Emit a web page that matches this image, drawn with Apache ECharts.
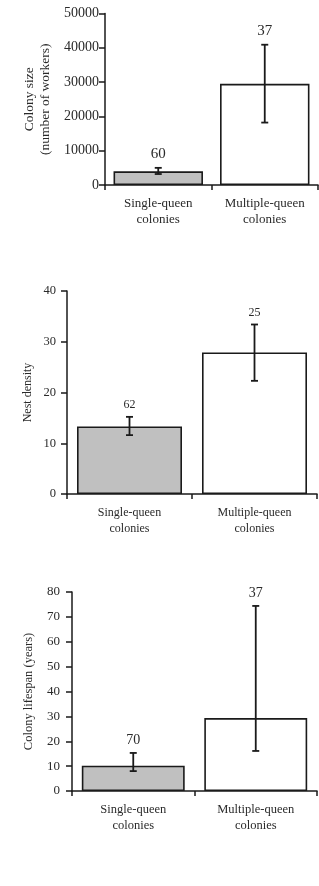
<!DOCTYPE html>
<html>
<head>
<meta charset="utf-8">
<script src="https://cdn.jsdelivr.net/npm/echarts@6/dist/echarts.min.js"></script>
<style>
  html, body { margin: 0; padding: 0; background: #fff; }
  #main { width: 319px; height: 886px; }
</style>
</head>
<body>
<div id="main"></div>
<script>
// categories (same for all three panels)
var categories = ['Single-queen\ncolonies', 'Multiple-queen\ncolonies'];

// panel 1 - colony size
var sizeMean = [4000, 29500];
var sizeLow = [3200, 18200];
var sizeHigh = [5000, 40900];
var sizeN = [60, 37];

// panel 2 - nest density
var densityMean = [13.3, 27.9];
var densityLow = [11.6, 22.3];
var densityHigh = [15.2, 33.4];
var densityN = [62, 25];

// panel 3 - colony lifespan
var lifeMean = [10.2, 29.3];
var lifeLow = [8, 16.1];
var lifeHigh = [15.3, 74.4];
var lifeN = [70, 37];

var FONT = '"Liberation Serif", "DejaVu Serif", serif';
var INK = '#1a1a1a';
var barColors = ['#c0c0c0', '#ffffff'];

var panels = [
  { name: 'Colony size\n(number of workers)', max: 50000, interval: 10000, gap: 52, fs: 14, cfs: 13, nfs: 15, margin: 6,
    mean: sizeMean, low: sizeLow, high: sizeHigh, n: sizeN },
  { name: 'Nest density', max: 40, interval: 10, gap: 31, fs: 12.5, cfs: 12, nfs: 12, margin: 11,
    mean: densityMean, low: densityLow, high: densityHigh, n: densityN },
  { name: 'Colony lifespan (years)', max: 80, interval: 10, gap: 35, fs: 13, cfs: 12.5, nfs: 14, margin: 12,
    mean: lifeMean, low: lifeLow, high: lifeHigh, n: lifeN }
];

var grids = [
  { left: 105, right: 1, top: 13.5, height: 171.5 },
  { left: 67, right: 2, top: 291, height: 203 },
  { left: 72, right: 2, top: 592, height: 199 }
];

var xAxes = [], yAxes = [], series = [];

panels.forEach(function (p, k) {
  xAxes.push({
    type: 'category', gridIndex: k, data: categories,
    axisLine: { lineStyle: { color: INK, width: 1.5 } },
    axisTick: { show: true, length: 5, lineStyle: { color: INK, width: 1.5 } },
    axisLabel: { color: '#2a2a2a', fontFamily: FONT, fontSize: p.cfs, lineHeight: 16, margin: 11 }
  });
  yAxes.push({
    type: 'value', gridIndex: k, min: 0, max: p.max, interval: p.interval,
    name: p.name, nameLocation: 'middle', nameGap: p.gap, nameRotate: 90,
    nameMoveOverlap: false,
    nameTextStyle: { color: '#2a2a2a', fontFamily: FONT, fontSize: p.fs - 0.5, lineHeight: 16 },
    splitLine: { show: false },
    axisLine: { show: true, lineStyle: { color: INK, width: 1.5 } },
    axisTick: { show: true, length: 6, lineStyle: { color: INK, width: 1.5 } },
    axisLabel: { color: '#2a2a2a', fontFamily: FONT, fontSize: p.fs, margin: p.margin,
                 formatter: function (v) { return String(v); } }
  });
  series.push({
    type: 'bar', xAxisIndex: k, yAxisIndex: k,
    barCategoryGap: '16%',
    data: p.mean.map(function (v, i) {
      return { value: v, itemStyle: { color: barColors[i] } };
    }),
    itemStyle: { borderColor: INK, borderWidth: 1.6 },
    silent: true
  });
  series.push({
    type: 'custom', xAxisIndex: k, yAxisIndex: k, z: 5, silent: true,
    data: p.low.map(function (v, i) { return [i, v, p.high[i], p.n[i]]; }),
    renderItem: function (params, api) {
      var lo = api.coord([api.value(0), api.value(1)]);
      var hi = api.coord([api.value(0), api.value(2)]);
      var x = lo[0], cap = 3.5;
      var st = { stroke: INK, lineWidth: 1.8 };
      return {
        type: 'group',
        children: [
          { type: 'line', shape: { x1: x, y1: lo[1], x2: x, y2: hi[1] }, style: st },
          { type: 'line', shape: { x1: x - cap, y1: lo[1], x2: x + cap, y2: lo[1] }, style: st },
          { type: 'line', shape: { x1: x - cap, y1: hi[1], x2: x + cap, y2: hi[1] }, style: st },
          { type: 'text', x: x, y: hi[1] - 6,
            style: { text: String(api.value(3)), fill: '#2a2a2a', font: p.nfs + 'px ' + FONT,
                     textAlign: 'center', textVerticalAlign: 'bottom' } }
        ]
      };
    }
  });
});

var myChart = echarts.init(document.getElementById('main'));
myChart.setOption({
  animation: false,
  backgroundColor: '#fff',
  grid: grids,
  xAxis: xAxes,
  yAxis: yAxes,
  series: series
});
</script>
</body>
</html>
